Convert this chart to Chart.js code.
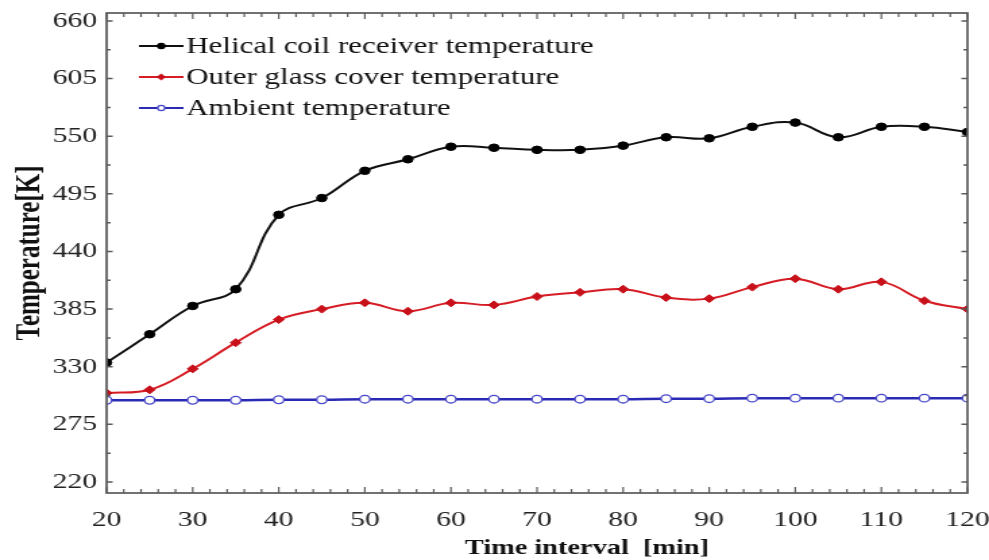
<!DOCTYPE html>
<html lang="en">
<head>
    <meta charset="UTF-8">
    <title>Receiver temperature vs time</title>
    <script src="https://cdn.jsdelivr.net/npm/chart.js"></script>
    <style>
        html, body {
            margin: 0;
            padding: 0;
            background: #fff;
            overflow: hidden;
        }
        /* the figure is drawn narrow and widened, like the wide serif look of the plot */
        #wrap {
            width: 733px;
            height: 560px;
            transform: scaleX(1.3493);
            transform-origin: 0 0;
        }
    </style>
</head>
<body>
    <div id="wrap"><canvas id="temp-chart"></canvas></div>

    <script>
        // measured temperatures, one reading every 5 minutes
        const timeMin = [20, 25, 30, 35, 40, 45, 50, 55, 60, 65, 70, 75, 80, 85, 90, 95, 100, 105, 110, 115, 120];
        const coilTemp = [334, 361, 388, 404, 475, 491, 517, 528, 540, 539, 537, 537, 541, 549, 548, 559, 563, 549, 559, 559, 554];
        const glassTemp = [305, 308, 328, 353, 375, 385, 391, 383, 391, 389, 397, 401, 404, 396, 395, 406, 414, 404, 411, 393, 385];
        const ambientTemp = [298, 298, 298, 298, 298.5, 298.5, 299, 299, 299, 299, 299, 299, 299, 299.5, 299.5, 300, 300, 300, 300, 300, 300];
        const yTicks = [220, 275, 330, 385, 440, 495, 550, 605, 660];

        const serif = "'Liberation Serif', 'Times New Roman', serif";

        const pts = arr => arr.map((v, i) => ({ x: timeMin[i], y: v }));

        // closed box with inward major/minor ticks on all four sides
        const framePlugin = {
            id: 'frame',
            afterDraw(chart) {
                const { ctx, chartArea: a, scales: { x, y } } = chart;
                ctx.save();
                ctx.strokeStyle = '#5a5a5a';
                ctx.lineWidth = 1.7;
                ctx.strokeRect(a.left, a.top, a.right - a.left, a.bottom - a.top);
                ctx.lineWidth = 1.2;
                ctx.beginPath();
                for (let v = 20; v <= 120; v += 2) {
                    const px = x.getPixelForValue(v);
                    const len = v % 10 === 0 ? 6 : 4;
                    ctx.moveTo(px, a.bottom); ctx.lineTo(px, a.bottom - len);
                    ctx.moveTo(px, a.top); ctx.lineTo(px, a.top + len);
                }
                ctx.stroke();
                ctx.lineWidth = 1.5;
                ctx.beginPath();
                for (let v = 220; v <= 660; v += 27.5) {
                    const py = y.getPixelForValue(v);
                    const len = (v - 220) % 55 === 0 ? 4.5 : 3;
                    ctx.moveTo(a.left, py); ctx.lineTo(a.left + len, py);
                    ctx.moveTo(a.right, py); ctx.lineTo(a.right - len, py);
                }
                ctx.stroke();

                // x axis title sits a little right of centre
                ctx.fillStyle = '#111';
                ctx.font = 'bold 21px ' + serif;
                ctx.textAlign = 'center';
                ctx.textBaseline = 'alphabetic';
                ctx.fillText('Time interval  [min]', (a.left + a.right) / 2 + 37, 554);
                ctx.restore();
            }
        };

        // legend drawn inside the plot, line - marker - line style
        const insideLegend = {
            id: 'insideLegend',
            afterDraw(chart) {
                const { ctx, chartArea: a } = chart;
                const rows = [46, 77, 108];
                ctx.save();
                ctx.font = '23px ' + serif;
                ctx.textBaseline = 'middle';
                ctx.textAlign = 'left';
                chart.data.datasets.forEach((ds, i) => {
                    const x0 = a.left + 24;
                    const yy = rows[i];
                    ctx.strokeStyle = ds.borderColor;
                    ctx.lineWidth = 2;
                    ctx.beginPath();
                    ctx.moveTo(x0, yy);
                    ctx.lineTo(x0 + 33, yy);
                    ctx.stroke();
                    ctx.fillStyle = ds.pointBackgroundColor;
                    ctx.strokeStyle = ds.pointBorderColor;
                    ctx.lineWidth = 1.2;
                    Chart.helpers.drawPoint(ctx, {
                        pointStyle: ds.pointStyle,
                        radius: 2.6,
                        rotation: 0,
                        borderWidth: 1.2
                    }, x0 + 16.5, yy);
                    ctx.fillStyle = '#111';
                    ctx.fillText(ds.label, x0 + 35, yy + 1);
                });
                ctx.restore();
            }
        };

        const ctx = document.getElementById('temp-chart').getContext('2d');
        new Chart(ctx, {
            type: 'line',
            data: {
                datasets: [
                    {
                        label: 'Helical coil receiver temperature',
                        data: pts(coilTemp),
                        borderColor: '#111111',
                        borderWidth: 2,
                        pointStyle: 'circle',
                        pointRadius: 3.8,
                        pointBackgroundColor: '#000000',
                        pointBorderColor: '#000000',
                        pointBorderWidth: 1
                    },
                    {
                        label: 'Outer glass cover temperature',
                        data: pts(glassTemp),
                        borderColor: '#d61c24',
                        borderWidth: 2,
                        pointStyle: 'rectRot',
                        pointRadius: 4,
                        pointBackgroundColor: '#c8101a',
                        pointBorderColor: '#c8101a',
                        pointBorderWidth: 1
                    },
                    {
                        label: 'Ambient temperature',
                        data: pts(ambientTemp),
                        borderColor: '#2a2ab4',
                        borderWidth: 2.5,
                        pointStyle: 'circle',
                        pointRadius: 3.8,
                        pointBackgroundColor: '#ffffff',
                        pointBorderColor: '#4646c8',
                        pointBorderWidth: 1.3
                    }
                ]
            },
            options: {
                responsive: true,
                maintainAspectRatio: false,
                animation: false,
                layout: {
                    padding: { top: 13, right: 16, bottom: 0, left: 0 }
                },
                elements: {
                    line: { tension: 0.4 }
                },
                plugins: {
                    legend: { display: false },
                    tooltip: { enabled: false }
                },
                scales: {
                    x: {
                        type: 'linear',
                        min: 20,
                        max: 120,
                        grid: { display: false, drawTicks: false },
                        border: { display: false },
                        ticks: {
                            stepSize: 10,
                            padding: 14,
                            color: '#222',
                            font: { family: serif, size: 22 }
                        },
                        afterFit: s => {
                            s.height = 67;
                            s.paddingLeft = 0;
                            s.paddingRight = 0;
                        }
                    },
                    y: {
                        min: 209.5,
                        max: 667.6,
                        grid: { display: false, drawTicks: false },
                        border: { display: false },
                        afterBuildTicks: s => { s.ticks = yTicks.map(v => ({ value: v })); },
                        ticks: {
                            padding: 7,
                            color: '#222',
                            font: { family: serif, size: 22 }
                        },
                        title: {
                            display: true,
                            text: 'Temperature[K]',
                            color: '#111',
                            padding: { top: 8, bottom: 0 },
                            font: { family: serif, size: 25, weight: 'bold' }
                        },
                        afterFit: s => {
                            s.width = 79;
                            s.paddingTop = 0;
                            s.paddingBottom = 0;
                        }
                    }
                }
            },
            plugins: [framePlugin, insideLegend]
        });
    </script>
</body>
</html>
